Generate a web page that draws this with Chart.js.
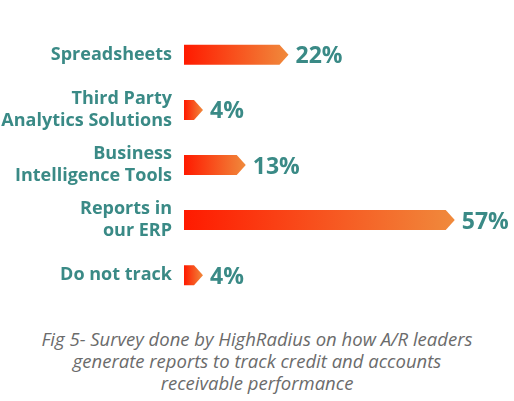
<!DOCTYPE html>
<html><head><meta charset="utf-8">
<script src="https://cdn.jsdelivr.net/npm/chart.js@4/dist/chart.umd.min.js"></script>
<style>
body{margin:0;background:#fff;width:514px;height:401px;overflow:hidden;font-family:"Open Sans",sans-serif}
#wrap{position:absolute;left:0;top:12px;width:514px;height:306px}
#cap{position:absolute;top:328px;left:0;width:514px;text-align:center;font-style:italic;color:#6b6b6b;font-size:18.5px;line-height:22px}
</style></head><body>
<div id="wrap"><canvas id="c"></canvas></div>
<div id="cap">Fig 5- Survey done by HighRadius on how A/R leaders<br>generate reports to track credit and accounts<br>receivable performance</div>
<script>
const categories=[["Spreadsheets"],["Third Party","Analytics Solutions"],["Business","Intelligence Tools"],["Reports in","our ERP"],["Do not track"]];
const values=[22,4,13,57,4];
const teal="#3a8a86";
const arrowPlugin={id:"arrow",afterDatasetsDraw(chart){
 const ctx=chart.ctx;const meta=chart.getDatasetMeta(0);
 meta.data.forEach((b,i)=>{
  const x0=b.base,x1=b.x,h=b.height,y=b.y,t=h/2,tip=9;
  const g=ctx.createLinearGradient(x0,0,x1,0);g.addColorStop(0,"#ff1a00");g.addColorStop(1,"#f08a3c");
  ctx.save();ctx.fillStyle=g;ctx.beginPath();
  ctx.moveTo(x0,y-t);ctx.lineTo(x1-tip,y-t);ctx.lineTo(x1,y);ctx.lineTo(x1-tip,y+t);ctx.lineTo(x0,y+t);ctx.closePath();ctx.fill();
  ctx.fillStyle=teal;ctx.font="bold 23px 'Open Sans'";ctx.textBaseline="middle";ctx.textAlign="left";
  ctx.fillText(values[i]+"%",x1+7,y+2);ctx.restore();
 });}};
new Chart(document.getElementById("c"),{type:"bar",
 data:{labels:categories,datasets:[{data:values,backgroundColor:"rgba(0,0,0,0)",barThickness:20}]},
 options:{indexAxis:"y",responsive:true,maintainAspectRatio:false,animation:false,
  layout:{padding:{right:45,top:0,bottom:0}},
  plugins:{legend:{display:false},tooltip:{enabled:false}},
  scales:{x:{min:0,max:60,display:false},
   y:{grid:{display:false},border:{display:false},afterFit(s){s.width=184;},
    ticks:{color:teal,font:{family:"Open Sans",weight:"bold",size:18,lineHeight:1.25},padding:4}}}},
 plugins:[arrowPlugin]});
</script></body></html>
